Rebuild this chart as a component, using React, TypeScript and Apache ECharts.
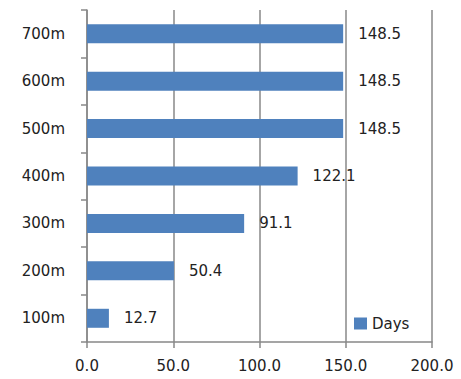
import React, { useEffect, useRef } from "react";
import * as echarts from "echarts";

const categories = ["100m", "200m", "300m", "400m", "500m", "600m", "700m"];
const days = [12.7, 50.4, 91.1, 122.1, 148.5, 148.5, 148.5];
const seriesName = "Days";

export default function App() {
  const ref = useRef<HTMLDivElement>(null);
  useEffect(() => {
    const chart = echarts.init(ref.current!, null, { renderer: "svg" });
    const font = "DejaVu Sans, Verdana, sans-serif";
    chart.setOption({
      animation: false,
      grid: { left: 87, right: 29, top: 10, bottom: 37, containLabel: false },
      legend: {
        data: [seriesName],
        left: 349,
        top: 311,
        itemWidth: 13,
        itemHeight: 12,
        itemGap: 6,
        icon: "rect",
        textStyle: { fontFamily: font, fontSize: 15, color: "#222" },
      },
      xAxis: {
        type: "value",
        min: 0,
        max: 200,
        interval: 50,
        axisLine: { show: true, lineStyle: { color: "#888", width: 1.5 } },
        axisTick: { show: true, length: 6, lineStyle: { color: "#888", width: 1.5 } },
        splitLine: { show: true, lineStyle: { color: "#888", width: 1.5 } },
        axisLabel: {
          formatter: (v: number) => v.toFixed(1),
          fontFamily: font,
          fontSize: 15,
          color: "#222",
          margin: 16,
        },
      },
      yAxis: {
        type: "category",
        data: categories,
        axisLine: { show: true, lineStyle: { color: "#888", width: 1.5 } },
        axisTick: { show: true, length: 6, lineStyle: { color: "#888", width: 1.5 } },
        axisLabel: { fontFamily: font, fontSize: 15, color: "#222", margin: 22 },
      },
      series: [
        {
          name: seriesName,
          type: "bar",
          data: days,
          barWidth: 19,
          itemStyle: { color: "#4F81BD" },
          label: {
            show: true,
            position: "right",
            distance: 15,
            formatter: (p: any) => p.value.toFixed(1),
            fontFamily: font,
            fontSize: 15,
            color: "#222",
          },
        },
      ],
    });
    return () => chart.dispose();
  }, []);
  return <div ref={ref} style={{ width: 461, height: 379, position: "absolute", left: 0, top: 0 }} />;
}
